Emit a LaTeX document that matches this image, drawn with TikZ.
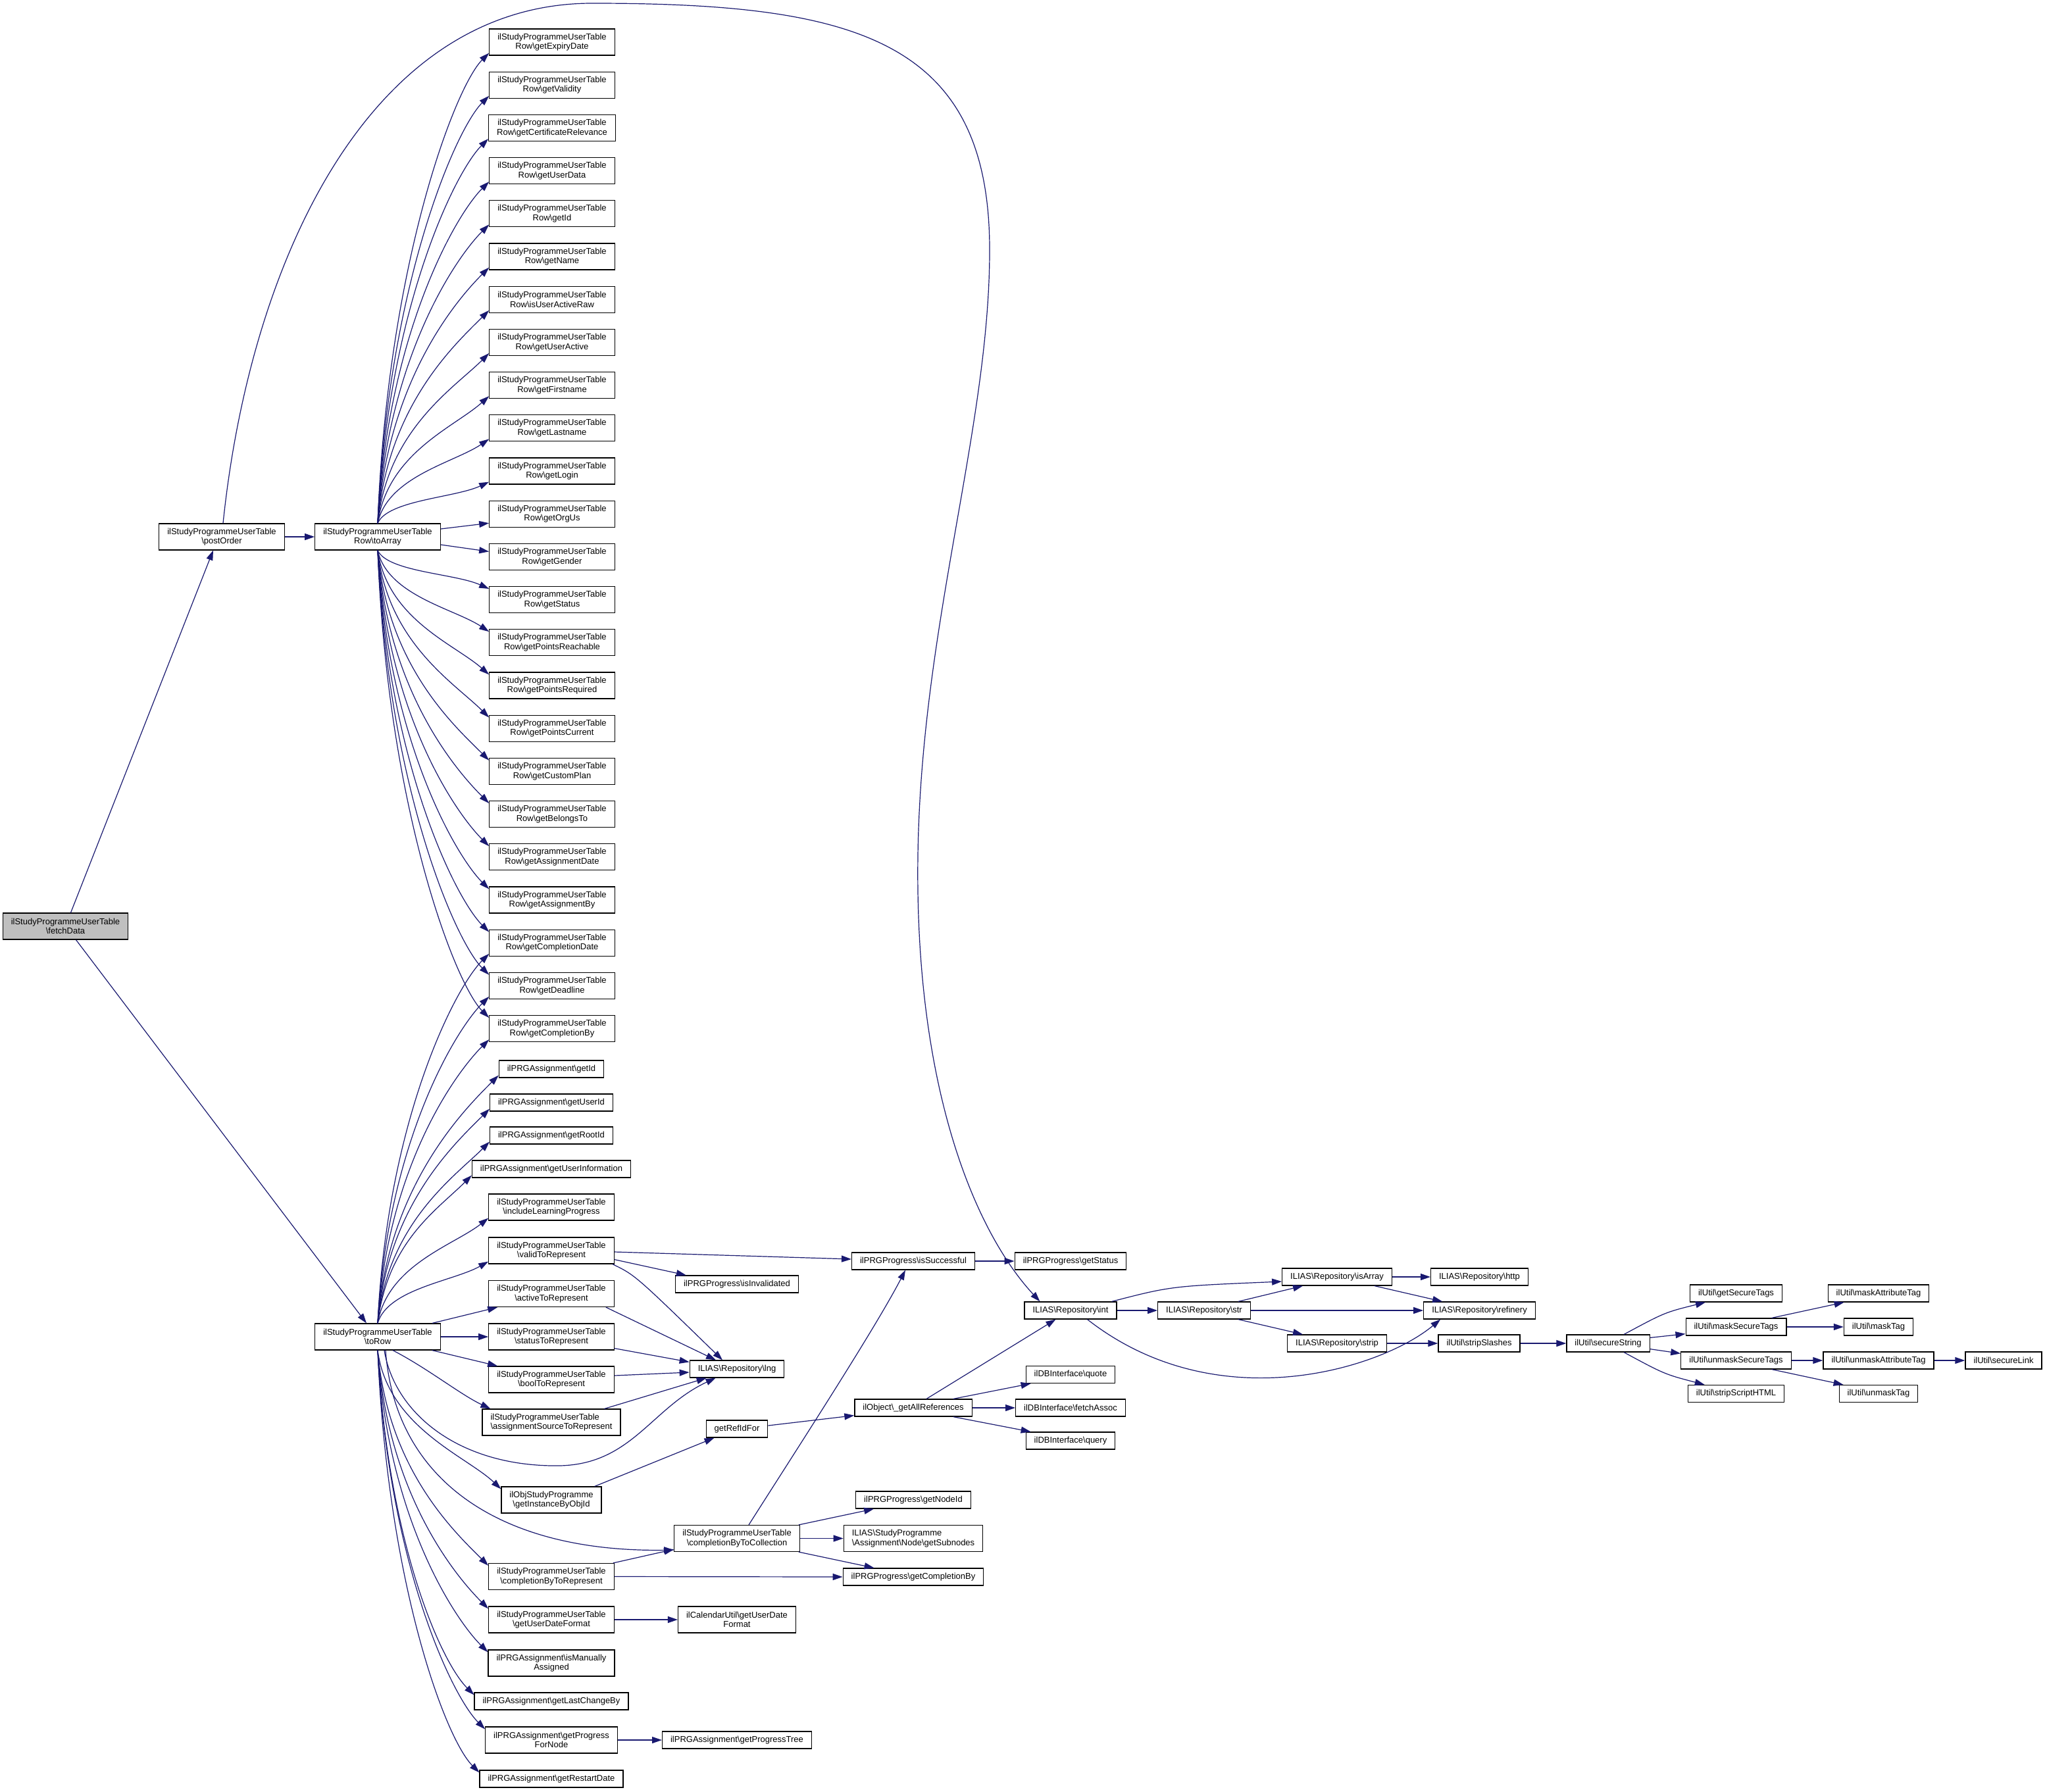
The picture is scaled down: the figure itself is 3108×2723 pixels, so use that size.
\documentclass[tikz,border=0pt]{standalone}
\usepackage{fontspec}
\setmainfont{Liberation Sans}
\usetikzlibrary{arrows.meta,calc}
\definecolor{edgeblue}{HTML}{191970}
\definecolor{nodegray}{HTML}{BFBFBF}
\newcommand\bsl{\textbackslash}
\begin{document}
\begin{tikzpicture}[x=0.5pt,y=-0.5pt,
  box/.style={draw=black, line width=0.6pt, fill=white, font=\fontsize{6.5pt}{7.3pt}\selectfont, inner xsep=6.25pt, inner ysep=2pt, minimum height=13pt, align=center},
  box2/.style={box, minimum height=20pt},
  conn/.style={draw=edgeblue, line width=0.6pt, -{Triangle[length=7.5pt,width=5pt]}},
  ]
\fill[white] (0,0) rectangle (3108,2723);
\useasboundingbox (0,0) rectangle (3108,2723);

% ---------- left nodes
\node[box2, fill=nodegray] (fetchData) at (99.5,1408) {ilStudyProgrammeUserTable\\\bsl fetchData};
\node[box2] (postOrder) at (337,816) {ilStudyProgrammeUserTable\\\bsl postOrder};
\node[box2] (toArray) at (574,816) {ilStudyProgrammeUserTable\\Row\bsl toArray};
\node[box2] (toRow) at (574,2032) {ilStudyProgrammeUserTable\\\bsl toRow};

\foreach \lbl [count=\i from 0] in {getExpiryDate,getValidity,getCertificateRelevance,getUserData,getId,getName,isUserActiveRaw,getUserActive,getFirstname,getLastname,getLogin,getOrgUs,getGender,getStatus,getPointsReachable,getPointsRequired,getPointsCurrent,getCustomPlan,getBelongsTo,getAssignmentDate,getAssignmentBy,getCompletionDate,getDeadline,getCompletionBy}{
  \node[box2] (c\i) at (839,{64+65.2*\i}) {ilStudyProgrammeUserTable\\Row\bsl \lbl};
}

\node[box] (pId) at (838,1625) {ilPRGAssignment\bsl getId};
\node[box] (pUid) at (838,1676) {ilPRGAssignment\bsl getUserId};
\node[box] (pRid) at (838,1726) {ilPRGAssignment\bsl getRootId};
\node[box] (pUI) at (838,1777) {ilPRGAssignment\bsl getUserInformation};
\node[box2] (inclLP) at (838,1835) {ilStudyProgrammeUserTable\\\bsl includeLearningProgress};
\node[box2] (valid) at (838,1901) {ilStudyProgrammeUserTable\\\bsl validToRepresent};
\node[box2] (active) at (838,1966.5) {ilStudyProgrammeUserTable\\\bsl activeToRepresent};
\node[box2] (status) at (838,2032) {ilStudyProgrammeUserTable\\\bsl statusToRepresent};
\node[box2] (bool) at (838,2097) {ilStudyProgrammeUserTable\\\bsl boolToRepresent};
\node[box2, align=left] (assign) at (838,2162) {ilStudyProgrammeUserTable\\\bsl assignmentSourceToRepresent};
\node[box2] (gInst) at (838,2280) {ilObjStudyProgramme\\\bsl getInstanceByObjId};
\node[box2] (cbtR) at (838,2396.5) {ilStudyProgrammeUserTable\\\bsl completionByToRepresent};
\node[box2] (guf) at (838,2462) {ilStudyProgrammeUserTable\\\bsl getUserDateFormat};
\node[box2] (isMan) at (838,2528) {ilPRGAssignment\bsl isManually\\Assigned};
\node[box] (glcb) at (838,2586) {ilPRGAssignment\bsl getLastChangeBy};
\node[box2] (gpfn) at (838,2645) {ilPRGAssignment\bsl getProgress\\ForNode};
\node[box] (grd) at (838,2704) {ilPRGAssignment\bsl getRestartDate};

% ---------- middle nodes
\node[box] (isSucc) at (1388,1917) {ilPRGProgress\bsl isSuccessful};
\node[box] (getStatusP) at (1627,1917) {ilPRGProgress\bsl getStatus};
\node[box] (isInv) at (1120,1952) {ilPRGProgress\bsl isInvalidated};
\node[box] (rint) at (1627,1992) {ILIAS\bsl Repository\bsl int};
\node[box] (lng) at (1120,2081) {ILIAS\bsl Repository\bsl lng};
\node[box] (quote) at (1627,2089.5) {ilDBInterface\bsl quote};
\node[box] (gar) at (1388,2140) {ilObject\bsl\_getAllReferences};
\node[box] (fetchAssoc) at (1627,2140) {ilDBInterface\bsl fetchAssoc};
\node[box] (refid) at (1120,2172) {getRefIdFor};
\node[box] (query) at (1627,2190) {ilDBInterface\bsl query};
\node[box] (nodeId) at (1388,2280) {ilPRGProgress\bsl getNodeId};
\node[box2] (cbtc) at (1120,2338.5) {ilStudyProgrammeUserTable\\\bsl completionByToCollection};
\node[box2, align=left] (subn) at (1388,2338.5) {ILIAS\bsl StudyProgramme\\\bsl Assignment\bsl Node\bsl getSubnodes};
\node[box] (pcb) at (1388,2397) {ilPRGProgress\bsl getCompletionBy};
\node[box2] (cal) at (1120,2462) {ilCalendarUtil\bsl getUserDate\\Format};
\node[box] (gpt) at (1120,2645) {ilPRGAssignment\bsl getProgressTree};

% ---------- right nodes
\node[box] (isArray) at (2032,1941) {ILIAS\bsl Repository\bsl isArray};
\node[box] (http) at (2248.5,1941) {ILIAS\bsl Repository\bsl http};
\node[box] (str) at (1830,1992) {ILIAS\bsl Repository\bsl str};
\node[box] (refinery) at (2248.5,1992) {ILIAS\bsl Repository\bsl refinery};
\node[box] (strip) at (2032,2042) {ILIAS\bsl Repository\bsl strip};
\node[box] (sSl) at (2248,2042) {ilUtil\bsl stripSlashes};
\node[box] (sStr) at (2444,2042) {ilUtil\bsl secureString};
\node[box] (gST) at (2638.5,1966) {ilUtil\bsl getSecureTags};
\node[box] (mST) at (2638.5,2017) {ilUtil\bsl maskSecureTags};
\node[box] (uST) at (2638.5,2068) {ilUtil\bsl unmaskSecureTags};
\node[box] (sSH) at (2638.5,2118.5) {ilUtil\bsl stripScriptHTML};
\node[box] (mAT) at (2855,1966) {ilUtil\bsl maskAttributeTag};
\node[box] (mT) at (2855,2017) {ilUtil\bsl maskTag};
\node[box] (uAT) at (2855,2068) {ilUtil\bsl unmaskAttributeTag};
\node[box] (uT) at (2855,2118.5) {ilUtil\bsl unmaskTag};
\node[box] (sL) at (3045,2068) {ilUtil\bsl secureLink};

% ---------- edges: fetchData / postOrder
\draw[conn] ($(fetchData.north)+(8,0)$) -- ($(postOrder.south)+(-13,0)$);
\draw[conn] ($(fetchData.south)+(16,0)$) -- ($(toRow.north)+(-17,0)$);
\draw[conn] (postOrder.east) -- (toArray.west);
\draw[conn] ($(postOrder.north)+(2,0)$) .. controls (380,400) and (560,5) .. (900,5)
   .. controls (1300,5) and (1504,60) .. (1504,380)
   .. controls (1504,650) and (1400,950) .. (1395,1300)
   .. controls (1390,1650) and (1480,1870) .. ($(rint.north west)+(24,0)$);

% ---------- toArray fan
\foreach \i in {0,...,10}{
  \pgfmathsetmacro\dy{796-(64+65.2*\i+16)}
  \pgfmathsetmacro\ca{0.55*\dy}
  \pgfmathsetmacro\cb{52*min(1,0.25+\dy/300)}
  \draw[conn] (toArray.north) .. controls ($(toArray.north)+(15,-\ca)$) and ($(c\i.south west)+(-52,\cb-4)$) .. ($(c\i.south west)+(0,-4)$);
}
\draw[conn] ($(toArray.east)+(0,-12)$) -- ($(c11.west)+(0,14)$);
\draw[conn] ($(toArray.east)+(0,12)$) -- ($(c12.west)+(0,-8)$);
\foreach \i in {13,...,23}{
  \pgfmathsetmacro\dy{(64+65.2*\i-16)-836}
  \pgfmathsetmacro\ca{0.55*\dy}
  \pgfmathsetmacro\cb{52*min(1,0.25+\dy/300)}
  \draw[conn] (toArray.south) .. controls ($(toArray.south)+(15,\ca)$) and ($(c\i.north west)+(-52,4-\cb)$) .. ($(c\i.north west)+(0,4)$);
}

% ---------- toRow fan
\foreach \nm/\ty in {c21/1449,c22/1514,c23/1580,pId/1633,pUid/1685,pRid/1735,pUI/1786,inclLP/1851,valid/1917}{
  \pgfmathsetmacro\dy{2012-\ty}
  \pgfmathsetmacro\ca{0.55*\dy}
  \pgfmathsetmacro\cb{52*min(1,0.25+\dy/300)}
  \draw[conn] (toRow.north) .. controls ($(toRow.north)+(15,-\ca)$) and ($(\nm.south west)+(-52,\cb-4)$) .. ($(\nm.south west)+(0,-4)$);
}
\draw[conn] ($(toRow.north east)+(-13,0)$) -- ($(active.south west)+(14,0)$);
\draw[conn] (toRow.east) -- (status.west);
\draw[conn] ($(toRow.south east)+(-13,0)$) -- ($(bool.north west)+(14,0)$);
\draw[conn] ($(toRow.south)+(23,0)$) .. controls (650,2080) and (700,2120) .. ($(assign.north west)+(13,0)$);
\foreach \nm/\ty in {gInst/2264,cbtR/2380,guf/2446,isMan/2512,glcb/2577,gpfn/2629,grd/2695}{
  \pgfmathsetmacro\dy{\ty-2052}
  \pgfmathsetmacro\ca{0.55*\dy}
  \pgfmathsetmacro\cb{52*min(1,0.25+\dy/300)}
  \draw[conn] (toRow.south) .. controls ($(toRow.south)+(15,\ca)$) and ($(\nm.north west)+(-52,4-\cb)$) .. ($(\nm.north west)+(0,4)$);
}
\draw[conn] ($(toRow.south)+(10,0)$) .. controls (600,2150) and (700,2230) .. (850,2228)
   .. controls (960,2226) and (990,2140) .. ($(lng.south west)+(40,0)$);
\draw[conn] ($(toRow.south)+(12,0)$) .. controls (600,2250) and (760,2360) .. ($(cbtc.south west)+(0,-3)$);

% ---------- represent helpers
\draw[conn] ($(valid.east)+(0,2)$) -- ($(isSucc.west)+(0,-3)$);
\draw[conn] ($(valid.south east)+(0,-7)$) -- (isInv.170);
\draw[conn] ($(valid.south east)+(-3,0)$) .. controls (965,1938) .. ($(lng.north)+(-22,0)$);
\draw[conn] ($(active.south east)+(-13,0)$) -- ($(lng.north)+(-32,0)$);
\draw[conn] ($(status.south east)+(0,-3)$) -- ($(lng.north west)+(0,3)$);
\draw[conn] ($(bool.east)+(0,-6)$) -- ($(lng.west)+(0,5)$);
\draw[conn] ($(assign.north east)+(-25,0)$) -- ($(lng.south west)+(26,0)$);
\draw[conn] ($(gInst.north east)+(-11,0)$) -- ($(refid.south west)+(13,0)$);
\draw[conn] ($(refid.east)+(0,-5)$) -- ($(gar.south west)+(0,-2)$);
\draw[conn] ($(gar.north)+(20,0)$) -- ($(rint.south west)+(48,0)$);
\draw[conn] ($(gar.north east)+(-29,0)$) -- ($(quote.south west)+(8,0)$);
\draw[conn] (gar.east) -- (fetchAssoc.west);
\draw[conn] ($(gar.south east)+(-29,0)$) -- ($(query.north west)+(8,0)$);
\draw[conn] ($(cbtc.north)+(18,0)$) .. controls (1200,2220) and (1330,2020) .. ($(isSucc.south)+(-12,0)$);
\draw[conn] ($(cbtc.north east)+(-2,0)$) -- ($(nodeId.south west)+(28,0)$);
\draw[conn] (cbtc.east) -- (subn.west);
\draw[conn] ($(cbtc.south east)+(-2,0)$) -- ($(pcb.north west)+(48,0)$);
\draw[conn] ($(cbtR.north east)+(-2,0)$) -- ($(cbtc.south west)+(0,-4)$);
\draw[conn] (cbtR.east) -- (pcb.west);
\draw[conn] (guf.east) -- (cal.west);
\draw[conn] (gpfn.east) -- (gpt.west);
\draw[conn] (isSucc.east) -- (getStatusP.west);

% ---------- repository / util
\draw[conn] ($(rint.north east)+(-8,0)$) .. controls (1780,1955) .. ($(isArray.west)+(0,7)$);
\draw[conn] (rint.east) -- (str.west);
\draw[conn] ($(rint.south east)+(-45,0)$) .. controls (1850,2160) and (2100,2080) .. ($(refinery.south west)+(26,0)$);
\draw[conn] ($(str.north east)+(-19,0)$) -- ($(isArray.south west)+(32,0)$);
\draw[conn] (str.east) -- (refinery.west);
\draw[conn] ($(str.south east)+(-19,0)$) -- ($(strip.north west)+(24,0)$);
\draw[conn] (isArray.east) -- (http.west);
\draw[conn] ($(isArray.south east)+(-27,0)$) -- ($(refinery.north west)+(29,0)$);
\draw[conn] (strip.east) -- (sSl.west);
\draw[conn] (sSl.east) -- (sStr.west);
\draw[conn] ($(sStr.north)+(24,0)$) .. controls (2530,1995) .. ($(gST.south west)+(24,0)$);
\draw[conn] ($(sStr.north east)+(0,5)$) -- ($(mST.south west)+(0,-3)$);
\draw[conn] ($(sStr.south east)+(0,-5)$) -- ($(uST.north west)+(0,3)$);
\draw[conn] ($(sStr.south)+(24,0)$) .. controls (2530,2089) .. ($(sSH.north west)+(26,0)$);
\draw[conn] ($(mST.north east)+(-23,0)$) -- ($(mAT.south west)+(25,0)$);
\draw[conn] (mST.east) -- (mT.west);
\draw[conn] (uST.east) -- (uAT.west);
\draw[conn] ($(uST.south east)+(-30,0)$) -- ($(uT.north west)+(7,0)$);
\draw[conn] (uAT.east) -- (sL.west);
\end{tikzpicture}
\end{document}
